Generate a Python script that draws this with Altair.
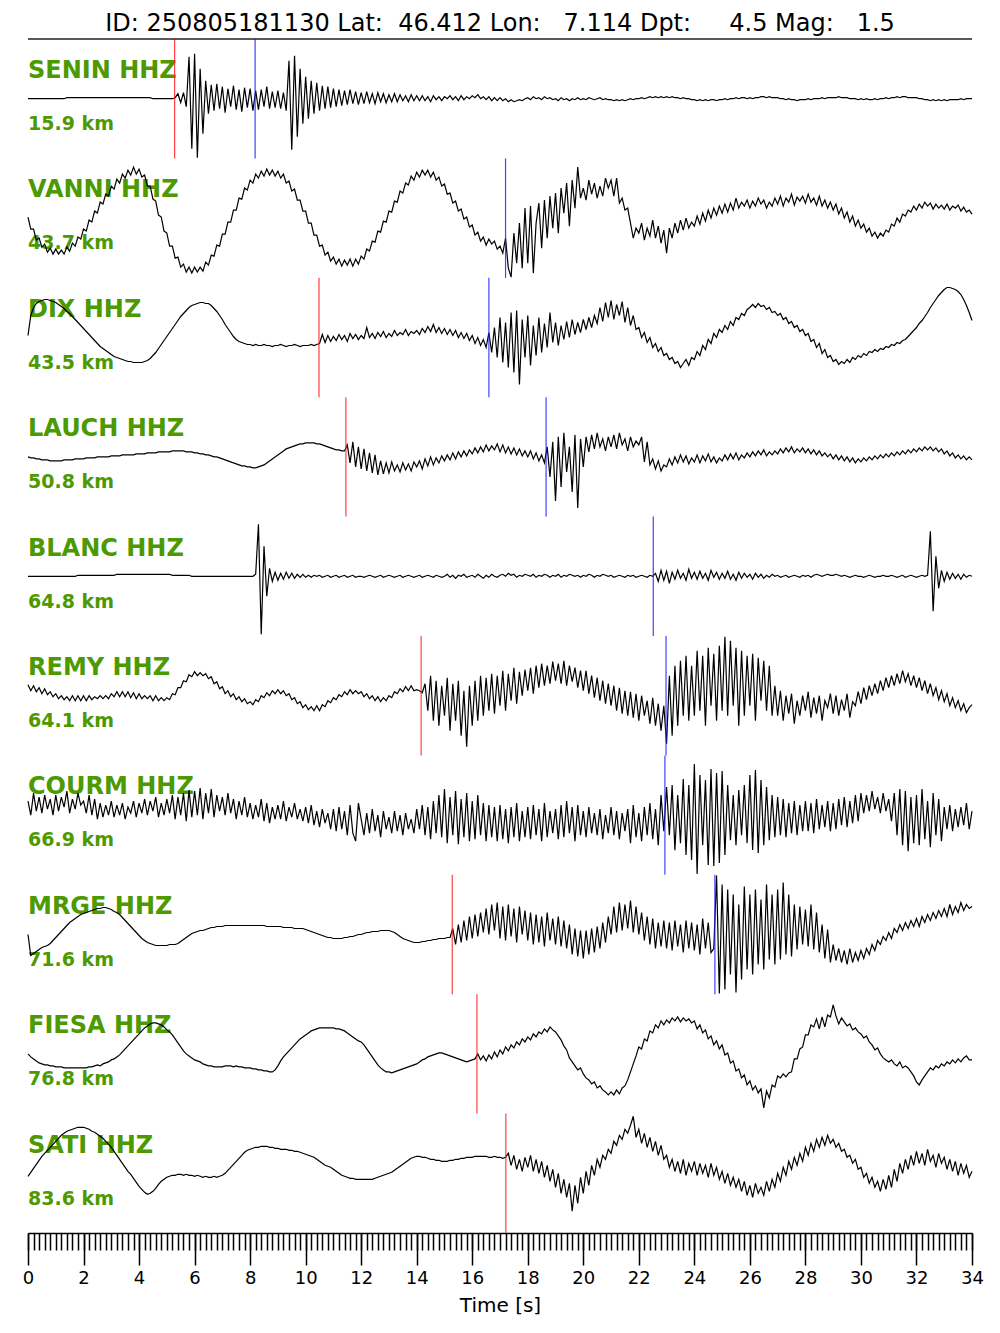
import altair as alt
import pandas as pd

# ---------------- data ----------------
STATIONS = ["SENIN", "VANNI", "DIX", "LAUCH", "BLANC", "REMY", "COURM", "MRGE", "FIESA", "SATI"]
DIST_KM = ["15.9", "43.7", "43.5", "50.8", "64.8", "64.1", "66.9", "71.6", "76.8", "83.6"]
P_STATIONS = ["SENIN", "DIX", "LAUCH", "REMY", "MRGE", "FIESA", "SATI"]
P_TIMES = [5.28, 10.48, 11.45, 14.16, 15.28, 16.17, 17.21]
S_STATIONS = ["SENIN", "VANNI", "DIX", "LAUCH", "BLANC", "REMY", "COURM", "MRGE"]
S_TIMES = [8.18, 17.20, 16.60, 18.66, 22.52, 22.98, 22.94, 24.74]
MAJOR_TICKS = [0, 2, 4, 6, 8, 10, 12, 14, 16, 18, 20, 22, 24, 26, 28, 30, 32, 34]
TITLE = "ID: 250805181130 Lat:  46.412 Lon:   7.114 Dpt:     4.5 Mag:   1.5"
DT = 0.1  # sample interval of the traces (s)

# trace amplitudes (relative units, up = positive), one value per 0.1 s, 0..34 s
SENIN = [
    0,0,0,0,0,0,0,0,0,0,
    0,0,0,0,1,1,1,1,1,1,
    1,1,1,1,1,1,1,1,1,1,
    1,1,1,1,1,1,1,1,1,1,
    1,1,1,1,1,0,0,0,0,0,
    0,0,0,1,5,-4,6,-8,42,-50,
    45,-59,30,-35,18,-15,14,-12,15,-10,
    12,-14,10,-8,13,-11,9,-13,11,-9,
    10,-12,8,-11,9,-8,12,-10,7,-9,
    8,-10,6,-12,38,-51,43,-38,30,-25,
    22,-20,18,-15,16,-12,13,-10,12,-9,
    10,-8,9,-7,8,-6,9,-5,7,-6,
    6,-5,7,-4,5,-5,6,-3,5,-4,
    4,-3,5,-3,4,-2,3,-3,4,-2,
    3,-2,3,-2,2,-3,3,-1,2,-2,
    2,0,3,-1,2,-2,3,-1,2,0,
    3,1,4,0,2,-1,2,-2,1,-2,
    1,-2,0,-3,-1,-3,-2,-1,-2,0,
    1,-1,2,0,1,-1,2,0,1,-1,
    0,-2,1,-1,0,-2,0,-1,1,-1,
    0,-1,1,0,-1,0,1,-1,0,-1,
    -1,-2,-1,-2,-1,-2,-1,0,-1,0,
    0,1,0,1,2,1,2,1,2,1,
    2,1,2,1,1,0,1,0,0,-1,
    -1,-2,-1,-2,-1,-2,-1,-1,-2,-1,
    -1,0,-1,0,0,1,0,1,1,0,
    1,0,1,1,2,2,1,2,1,1,
    1,0,0,-1,0,-1,-1,-2,-1,-1,
    -1,0,-1,0,0,0,1,0,1,1,
    1,1,2,1,1,1,0,0,0,-1,
    0,-1,0,-1,-1,0,-1,0,0,1,
    0,1,1,2,1,2,2,1,1,1,
    1,0,0,-1,-1,-2,-1,-2,-1,-2,
    -1,-2,-1,-1,-1,-1,0,-1,0,0,
    0,
]
VANNI = [
    1,-11,-11,-22,-20,-29,-26,-34,-30,-36,
    -31,-36,-32,-36,-29,-33,-25,-28,-19,-21,
    -11,-13,-2,-4,7,5,16,14,24,22,
    32,29,39,35,44,40,48,43,51,44,
    49,41,43,32,32,19,17,3,1,-13,
    -15,-28,-28,-40,-39,-49,-46,-54,-49,-55,
    -49,-54,-49,-53,-44,-47,-37,-38,-27,-28,
    -16,-16,-4,-4,8,8,20,19,30,28,
    38,35,44,40,47,42,49,43,48,42,
    47,40,44,35,37,27,29,18,18,7,
    7,-5,-5,-17,-17,-28,-27,-37,-34,-43,
    -39,-46,-41,-48,-42,-47,-41,-48,-41,-46,
    -38,-41,-31,-33,-23,-24,-13,-14,-3,-4,
    7,6,17,16,27,25,35,33,42,38,
    46,41,48,43,48,41,46,38,41,32,
    34,24,25,15,17,7,9,-1,1,-9,
    -7,-17,-14,-23,-19,-27,-21,-26,-23,-31,
    -28,-35,-20,-50,-59,-15,-45,-5,-50,10,
    -45,12,-55,-5,15,-30,18,-20,22,-10,
    25,-15,30,5,35,-8,38,10,51,20,
    30,18,38,24,35,20,32,22,40,30,
    38,22,40,15,20,8,10,-5,-20,-10,
    -15,-5,-22,-10,-18,-2,-20,-8,-25,-12,
    -35,-10,-20,-5,-15,-2,-12,0,-10,-4,
    -8,2,-6,5,-3,8,0,10,3,12,
    5,14,6,15,8,20,10,16,12,18,
    10,17,12,20,14,18,10,16,12,20,
    14,22,12,20,16,24,13,21,17,22,
    15,24,16,20,13,22,12,18,10,16,
    8,14,4,10,0,6,-4,2,-8,-2,
    -10,-6,-14,-10,-18,-14,-20,-15,-18,-12,
    -14,-6,-8,0,-4,4,2,8,6,12,
    8,14,10,16,12,15,9,14,10,13,
    9,14,8,12,10,13,7,11,6,8,
    4,
]
DIX = [
    2,22,30,34,36,37,38,38,37,36,
    35,33,31,29,26,24,21,18,15,12,
    9,6,3,0,-3,-6,-9,-11,-13,-15,
    -17,-19,-20,-21,-22,-23,-24,-24,-25,-25,
    -25,-25,-24,-23,-21,-18,-15,-11,-7,-3,
    1,5,9,13,17,21,24,27,30,32,
    33,34,35,35,34,34,32,29,26,22,
    18,13,9,5,1,-2,-4,-5,-6,-7,
    -7,-8,-7,-8,-8,-7,-8,-8,-9,-8,
    -8,-7,-8,-9,-8,-8,-7,-8,-9,-8,
    -8,-8,-7,-8,-7,-6,3,-5,2,-4,
    1,-3,3,-2,2,-4,4,-1,3,-2,
    2,-1,10,0,4,-1,5,1,6,0,
    4,1,7,2,5,3,8,2,6,4,
    7,3,9,5,11,6,13,5,10,4,
    9,3,8,2,7,0,5,-1,4,-3,
    2,-6,0,-8,-2,-10,5,-15,10,-20,
    20,-25,15,-30,25,-35,27,-47,18,-20,
    22,-28,12,-18,20,-15,14,-10,25,-5,
    15,-8,12,-2,16,0,18,3,15,5,
    18,8,20,10,22,14,30,16,35,20,
    37,18,33,22,36,15,30,12,22,8,
    10,0,5,-5,0,-10,-6,-14,-10,-18,
    -16,-22,-20,-26,-24,-30,-26,-22,-28,-20,
    -22,-14,-18,-8,-12,-2,-6,4,0,8,
    5,12,8,16,12,20,18,24,22,28,
    30,33,30,34,31,32,28,30,25,26,
    22,24,18,20,14,16,10,12,6,8,
    2,4,-4,-2,-10,-6,-16,-12,-20,-18,
    -24,-22,-27,-24,-26,-22,-25,-20,-22,-18,
    -20,-16,-18,-14,-15,-12,-14,-11,-12,-9,
    -10,-7,-8,-5,-6,-3,-2,1,4,7,
    10,14,17,21,25,30,34,38,42,45,
    48,50,50,49,48,46,43,38,32,25,
    17,
]
LAUCH = [
    0,-1,-1,-2,-2,-3,-3,-3,-4,-4,
    -4,-4,-4,-3,-3,-3,-3,-2,-2,-2,
    -2,-1,-1,-1,-1,0,0,0,0,0,
    1,1,1,1,2,2,2,2,2,3,
    3,3,3,4,4,4,4,5,5,5,
    5,5,6,6,6,6,6,5,5,5,
    4,4,3,3,2,2,1,0,0,-1,
    -2,-3,-4,-5,-6,-7,-8,-9,-9,-10,
    -10,-11,-11,-10,-9,-8,-6,-4,-2,0,
    2,4,6,8,9,10,11,12,13,13,
    14,14,14,14,13,13,12,11,10,9,
    8,7,7,6,6,12,-6,15,-10,10,
    -12,8,-14,4,-16,2,-18,-4,-17,-6,
    -16,-5,-14,-8,-15,-6,-13,-7,-14,-5,
    -10,-4,-12,-2,-9,0,-8,-1,-6,1,
    -4,2,-3,4,-2,5,0,6,1,7,
    3,9,4,10,5,12,6,11,7,13,
    5,12,4,10,3,9,2,8,1,6,
    0,6,-2,4,-4,2,-6,10,-20,15,
    -44,20,-30,24,-15,10,-35,22,-51,18,
    -10,20,5,22,8,24,10,18,6,20,
    10,22,8,24,12,18,6,20,10,16,
    12,20,-5,15,-8,-2,-12,-4,-14,-8,
    -10,-2,-8,0,-6,2,-5,1,-7,-1,
    -5,2,-6,1,-4,3,-5,0,-6,-1,
    -4,2,-3,3,-2,4,-3,2,-1,4,
    0,5,1,6,2,7,1,5,2,6,
    3,8,4,9,5,10,4,8,5,9,
    4,8,3,7,2,6,1,4,0,3,
    -2,2,-3,1,-4,0,-5,-1,-6,-2,
    -5,-1,-4,0,-3,1,-2,2,-1,3,
    0,4,1,5,2,6,3,7,4,8,
    5,9,6,10,7,10,6,9,5,8,
    3,6,1,4,-1,2,-2,1,-3,0,
    -3,
]
BLANC = [
    0,0,0,0,0,0,0,0,0,0,
    0,0,0,0,0,0,0,0,1,1,
    1,1,1,1,1,1,1,1,1,1,
    1,1,2,2,2,2,2,2,2,2,
    2,2,2,2,2,2,2,2,2,2,
    2,2,1,1,1,1,1,1,1,0,
    0,0,0,0,0,0,0,0,0,0,
    0,0,0,0,0,0,0,0,0,0,
    0,0,2,52,-58,30,-20,8,-5,4,
    -4,3,-3,4,-2,3,-2,2,-1,2,
    -1,1,-1,1,0,1,-1,0,1,-1,
    0,1,-1,0,1,-1,0,1,-1,0,
    0,-1,0,1,0,-1,0,1,-1,0,
    1,0,-1,0,1,-1,0,1,0,-1,
    0,1,-1,0,1,0,-1,1,0,-1,
    0,2,-1,1,-2,1,0,2,-1,0,
    1,-1,2,0,-2,1,-1,2,0,-1,
    1,2,0,3,1,2,-1,1,0,2,
    1,0,2,-1,1,0,2,1,-1,1,
    0,2,-1,1,0,2,1,0,1,-1,
    1,0,2,1,-1,1,0,2,1,0,
    1,-1,0,1,0,-1,1,0,1,-1,
    0,1,0,-1,1,0,3,-5,6,-4,
    5,-7,4,-3,6,-2,3,-4,7,-2,
    4,-3,5,-2,3,-4,6,-1,4,-3,
    3,-2,5,-3,2,-4,4,-2,3,-1,
    2,-3,3,-1,2,-2,1,-1,2,0,
    1,-1,0,1,-1,0,1,0,-1,1,
    0,1,-1,1,2,1,0,1,2,1,
    1,2,1,0,1,0,-1,0,1,0,
    0,-1,0,1,0,-1,0,0,1,0,
    0,1,0,-1,0,1,-1,0,1,0,
    -1,0,1,0,1,45,-35,20,-12,6,
    -5,4,-3,3,-2,2,-3,2,-1,1,
    0,
]
REMY = [
    11,5,10,4,8,2,7,1,4,-1,
    2,-3,0,-4,-1,-5,0,-5,0,-5,
    0,-5,0,-4,-1,-3,0,-3,0,-3,
    2,-1,4,-1,4,-1,4,-2,3,-3,
    2,-3,0,-3,0,-5,0,-5,-2,-5,
    -2,-4,2,1,8,8,15,14,21,19,
    24,20,23,20,22,17,19,12,14,7,
    9,2,5,-1,2,-4,-1,-6,-3,-8,
    -6,-9,-4,-6,0,-2,3,0,5,2,
    6,2,5,0,2,-4,-2,-8,-6,-12,
    -9,-14,-11,-15,-10,-15,-9,-11,-5,-7,
    -2,-4,1,-1,4,1,6,2,5,2,
    4,-1,2,-3,0,-5,-1,-6,-2,-5,
    0,-2,4,2,7,4,9,5,10,5,
    6,5,3,12,-15,20,-25,15,-30,10,
    -20,18,-35,12,-25,15,-40,5,-51,10,
    -30,15,-25,20,-20,18,-15,22,-18,20,
    -10,25,-15,22,-5,28,-8,24,0,26,
    5,28,2,30,8,32,10,30,12,34,
    15,32,12,35,10,30,14,28,8,25,
    5,25,2,20,-2,18,-5,15,-8,12,
    -10,10,-15,8,-18,5,-20,4,-22,2,
    -25,0,-20,-5,-28,-2,-30,-8,-35,-10,
    -48,20,-40,30,-30,35,-20,40,-25,30,
    -20,45,-15,40,-30,48,-10,42,-25,50,
    -15,59,-20,55,-10,48,-30,45,-20,40,
    -10,42,-25,38,-5,35,-15,30,-20,10,
    -20,5,-25,0,-18,2,-28,-5,-20,0,
    -15,4,-22,-2,-18,0,-25,-5,-12,2,
    -18,0,-20,-4,-15,2,-22,-6,-10,4,
    -8,8,-4,10,0,12,2,15,5,18,
    8,20,10,22,12,25,14,22,10,20,
    8,18,5,15,2,12,0,8,-4,5,
    -6,2,-10,-2,-12,-5,-15,-8,-17,-12,
    -9,
]
COURM = [
    14,0,22,4,18,2,20,6,16,0,
    20,4,18,8,24,2,16,6,22,10,
    14,2,20,0,16,-4,12,-2,10,0,
    14,-2,10,0,12,-4,8,2,14,-2,
    12,2,16,0,14,4,18,-2,12,0,
    16,2,20,-4,18,0,22,-6,25,-2,
    24,0,27,-4,22,2,26,-2,20,4,
    18,0,22,2,16,-4,14,0,18,-2,
    12,-4,10,-2,16,-6,12,-8,8,-4,
    10,-4,14,-6,8,-2,12,-4,6,-6,
    8,-8,10,-10,4,-12,6,-8,2,-14,
    6,-16,8,-14,4,-20,10,-18,-26,12,
    -4,-20,2,-18,6,-16,0,-22,4,-14,
    -2,-18,4,-16,0,-20,2,-14,-4,-18,
    6,-14,10,-20,8,-24,14,-18,20,-22,
    26,-28,18,-20,24,-29,16,-22,22,-26,
    14,-24,20,-20,12,-26,10,-22,8,-26,
    10,-24,6,-28,8,-22,12,-26,4,-22,
    8,-24,10,-20,6,-26,12,-22,4,-18,
    6,-24,10,-22,14,-18,8,-26,10,-20,
    4,-22,8,-18,2,-20,6,-24,0,-18,
    8,-20,4,-24,2,-16,6,-28,10,-22,
    2,-26,8,-20,12,-24,6,-30,20,-16,
    28,-20,30,-35,20,-28,36,-40,30,-45,
    51,-59,40,-30,35,-50,46,-51,42,-48,
    44,-40,30,-25,20,-30,25,-20,30,-28,
    40,-35,45,-38,35,-30,28,-25,20,-22,
    18,-20,16,-22,12,-18,14,-20,10,-16,
    14,-16,12,-18,16,-14,10,-12,14,-16,
    12,-14,16,-10,18,-12,14,-8,20,-6,
    22,2,20,4,24,6,18,2,22,4,
    16,-6,22,-20,26,-30,24,-36,18,-28,
    20,-30,26,-24,14,-32,22,-20,16,-26,
    8,-14,10,-16,6,-12,8,-10,12,-14,
    4,
]
MRGE = [
    0,-21,-19,-17,-15,-13,-12,-11,-9,-6,
    -3,0,3,6,9,12,14,16,18,20,
    21,22,23,24,25,26,26,27,27,26,
    25,23,22,20,17,14,11,8,5,2,
    -1,-4,-6,-8,-9,-10,-11,-11,-11,-11,
    -11,-10,-10,-10,-9,-7,-5,-3,-1,1,
    2,3,4,4,5,6,7,7,8,8,
    8,9,9,9,9,9,9,9,9,9,
    9,9,9,9,9,9,8,8,8,8,
    8,8,7,7,7,7,6,6,6,6,
    5,4,3,2,1,0,-1,-2,-3,-3,
    -4,-4,-4,-4,-3,-3,-2,-2,-1,0,
    0,1,2,2,3,3,3,4,4,4,
    4,3,2,0,-2,-4,-5,-6,-7,-8,
    -8,-8,-7,-7,-6,-6,-5,-5,-4,-4,
    -4,-3,-3,6,-10,10,-8,14,-6,18,
    -4,20,-2,22,2,26,0,30,4,32,
    -4,28,-6,30,-2,26,-8,28,0,24,
    -6,22,-10,20,-8,18,-12,22,-6,16,
    -10,18,-12,14,-14,10,-20,6,-22,4,
    -24,4,-20,6,-18,8,-14,12,-8,18,
    0,28,2,32,4,30,6,34,2,28,
    0,22,-6,18,-10,16,-14,12,-12,14,
    -14,12,-16,14,-12,10,-18,14,-14,12,
    -16,10,-20,16,-14,12,-18,-14,59,-59,
    50,-55,45,-40,40,-58,30,-45,48,-35,
    40,-40,45,-30,35,-35,50,-25,40,-30,
    45,-25,52,-20,40,-22,30,-15,28,-10,
    25,-12,30,-15,22,-18,10,-24,5,-28,
    -10,-26,-14,-28,-16,-30,-14,-28,-18,-26,
    -16,-24,-14,-20,-10,-16,-6,-10,-2,-6,
    2,-4,6,2,10,4,12,6,14,8,
    16,8,18,12,20,14,22,16,24,18,
    26,18,30,20,28,22,32,24,30,26,
    28,
]
FIESA = [
    0,-3,-5,-7,-9,-10,-11,-11,-12,-12,
    -13,-13,-13,-14,-14,-14,-14,-14,-14,-14,
    -14,-14,-13,-13,-12,-11,-12,-10,-9,-8,
    -6,-5,-3,-1,2,5,8,11,14,17,
    20,23,26,28,30,31,31,30,29,27,
    24,22,19,15,11,7,3,0,-2,-4,
    -6,-7,-8,-10,-11,-12,-12,-13,-13,-13,
    -13,-12,-12,-12,-13,-12,-13,-13,-14,-14,
    -14,-15,-15,-16,-16,-17,-17,-18,-18,-16,
    -12,-7,-3,0,3,6,9,12,15,17,
    19,21,23,24,25,26,26,26,26,26,
    26,25,25,24,23,21,19,17,15,13,
    12,9,5,1,-3,-7,-11,-14,-16,-18,
    -18,-19,-18,-17,-16,-15,-14,-13,-12,-11,
    -10,-8,-6,-5,-3,-2,-1,0,1,1,
    0,-1,-2,-3,-4,-5,-6,-7,-8,-7,
    -6,-5,0,-6,-2,-7,-1,-5,2,-3,
    4,0,7,3,9,6,12,9,15,12,
    17,14,20,17,22,20,25,22,27,24,
    22,18,14,8,4,-4,-8,-12,-16,-14,
    -20,-24,-26,-30,-28,-34,-32,-36,-38,-41,
    -38,-41,-36,-40,-34,-32,-26,-18,-10,-2,
    7,5,15,13,23,21,29,26,33,29,
    34,31,36,33,37,32,36,33,35,31,
    33,25,29,21,24,15,18,9,13,5,
    9,-1,1,-9,-7,-17,-15,-24,-21,-31,
    -27,-36,-32,-39,-35,-54,-37,-44,-31,-33,
    -22,-24,-20,-23,-19,-18,-5,-5,5,7,
    19,19,29,27,35,25,37,27,39,37,
    49,38,30,36,32,28,30,24,26,22,
    20,16,18,12,9,4,6,0,-4,-6,
    -8,-6,-10,-12,-8,-14,-12,-14,-18,-22,
    -28,-31,-26,-22,-18,-14,-16,-12,-14,-10,
    -12,-8,-10,-6,-9,-5,-8,-4,-2,-6,
    -6,
]
SATI = [
    -3,1,5,9,13,17,20,23,26,29,
    32,35,38,40,42,43,44,45,46,46,
    46,45,44,42,41,39,37,35,32,29,
    26,22,18,14,10,6,2,-1,-5,-9,
    -13,-16,-19,-21,-20,-18,-15,-11,-8,-6,
    -4,-3,-2,-2,-1,-1,-2,-1,-2,-2,
    -3,-2,-3,-4,-3,-4,-4,-3,-4,-3,
    -2,0,3,6,9,12,15,18,21,23,
    24,25,26,26,27,27,27,26,26,25,
    25,24,24,24,23,23,22,22,21,20,
    19,18,17,16,14,12,10,8,7,6,
    4,2,0,-2,-3,-4,-5,-5,-6,-6,
    -6,-6,-6,-6,-6,-5,-4,-3,-2,-1,
    0,1,3,5,7,9,11,13,15,16,
    17,17,16,16,15,14,14,13,13,12,
    12,12,13,13,14,14,15,15,16,16,
    16,17,17,17,17,17,16,16,17,16,
    16,15,16,20,8,18,4,14,2,16,
    6,18,2,14,0,12,-4,8,-8,4,
    -14,0,-20,-6,-24,-10,-38,-12,-30,-4,
    -20,2,-12,8,-2,14,6,18,14,24,
    20,32,28,38,34,44,40,48,57,36,
    44,30,40,26,36,22,32,18,28,14,
    18,6,14,2,12,0,14,-2,10,2,
    12,-2,10,0,8,-4,10,-2,6,-6,
    2,-10,0,-12,-4,-14,-6,-18,-8,-22,
    -12,-24,-10,-20,-14,-22,-8,-18,-6,-14,
    0,-8,6,-2,12,4,16,8,20,12,
    26,18,30,22,34,26,36,28,38,30,
    34,26,30,22,24,16,18,10,14,4,
    6,-4,0,-10,-4,-14,-8,-18,-6,-16,
    -2,-14,4,-8,10,0,14,4,18,8,
    22,10,20,8,24,12,18,6,20,10,
    16,4,14,2,12,-2,10,0,8,-4,
    2,
]
TRACES = [SENIN, VANNI, DIX, LAUCH, BLANC, REMY, COURM, MRGE, FIESA, SATI]

# ---------------- layout ----------------
W, H = 944, 1194
N = len(STATIONS)
BAND = H / N
GREEN = "#4c9900"
FONT = "DejaVu Sans"

rows = []
for i, (name, arr) in enumerate(zip(STATIONS, TRACES)):
    for k, v in enumerate(arr):
        rows.append({"station": name, "t": round(k * DT, 2), "y": -(BAND * i + BAND / 2) + v})
trace_df = pd.DataFrame(rows)

pick_rows = []
for name, tt in zip(P_STATIONS, P_TIMES):
    i = STATIONS.index(name)
    pick_rows.append({"t": tt, "y1": -BAND * i, "y2": -BAND * (i + 1), "c": "#ff2020"})
for name, tt in zip(S_STATIONS, S_TIMES):
    i = STATIONS.index(name)
    pick_rows.append({"t": tt, "y1": -BAND * i, "y2": -BAND * (i + 1), "c": "#2020ff"})
pick_df = pd.DataFrame(pick_rows)

name_df = pd.DataFrame({
    "t": [0.0] * N,
    "y": [-(BAND * i + 39) for i in range(N)],
    "label": [f"{s} HHZ" for s in STATIONS],
})
dist_df = pd.DataFrame({
    "t": [0.0] * N,
    "y": [-(BAND * i + 91) for i in range(N)],
    "label": [f"{d} km" for d in DIST_KM],
})
minor_vals = [round(k * 0.2, 1) for k in range(0, 171)]
minor_df = pd.DataFrame({"t": minor_vals})

xs = alt.Scale(domain=[0, 34], nice=False, zero=False)
ys = alt.Scale(domain=[-H, 0], nice=False, zero=False)

top_line = alt.Chart(pd.DataFrame({"a": [0]})).mark_rule(color="#222222", strokeWidth=1.5).encode(
    x=alt.value(0), x2=alt.value(W), y=alt.value(0)
)

traces = alt.Chart(trace_df).mark_line(color="black", strokeWidth=1.2).encode(
    x=alt.X("t:Q", scale=xs, axis=alt.Axis(
        values=MAJOR_TICKS, orient="bottom", tickSize=32, tickWidth=1.5, tickColor="black",
        domainWidth=1.5, domainColor="black", labelFontSize=18, labelFont=FONT,
        labelColor="black", labelPadding=4, labelFlush=False, labelOverlap=False,
        title="Time [s]", titleFont=FONT, titleFontSize=20, titleFontWeight="normal",
        titleColor="black", titlePadding=8, grid=False)),
    y=alt.Y("y:Q", scale=ys, axis=None),
    detail="station:N",
)

picks = alt.Chart(pick_df).mark_rule(strokeWidth=1.2, opacity=0.85).encode(
    x=alt.X("t:Q", scale=xs, axis=None),
    y=alt.Y("y1:Q", scale=ys, axis=None),
    y2="y2:Q",
    color=alt.Color("c:N", scale=None),
)

names = alt.Chart(name_df).mark_text(
    align="left", baseline="alphabetic", font=FONT, fontWeight="bold", fontSize=24, color=GREEN
).encode(
    x=alt.X("t:Q", scale=xs, axis=None),
    y=alt.Y("y:Q", scale=ys, axis=None),
    text="label:N",
)

dists = alt.Chart(dist_df).mark_text(
    align="left", baseline="alphabetic", font=FONT, fontWeight="bold", fontSize=19, color=GREEN
).encode(
    x=alt.X("t:Q", scale=xs, axis=None),
    y=alt.Y("y:Q", scale=ys, axis=None),
    text="label:N",
)

title = alt.Chart(pd.DataFrame({"txt": [TITLE.replace(" ", "\u00a0")]})).mark_text(
    font=FONT, fontSize=24, align="center", baseline="middle", color="black"
).encode(x=alt.value(W / 2), y=alt.value(-15), text="txt:N")

minor = alt.Chart(minor_df).mark_point(opacity=0).encode(
    x=alt.X("t:Q", scale=xs, axis=alt.Axis(
        values=minor_vals, orient="bottom", tickSize=17, tickWidth=1.5, tickColor="black",
        labels=False, domain=False, title=None, grid=False)),
)

chart = alt.layer(names, dists, traces, picks, top_line, title, minor).resolve_axis(
    x="independent"
).properties(
    width=W, height=H,
    autosize=alt.AutoSizeParams(type="none"),
    padding={"left": 20, "top": 31, "right": 20, "bottom": 90},
).configure_view(stroke=None)

chart.save("out.html", embed_options={"renderer": "svg", "actions": False})
